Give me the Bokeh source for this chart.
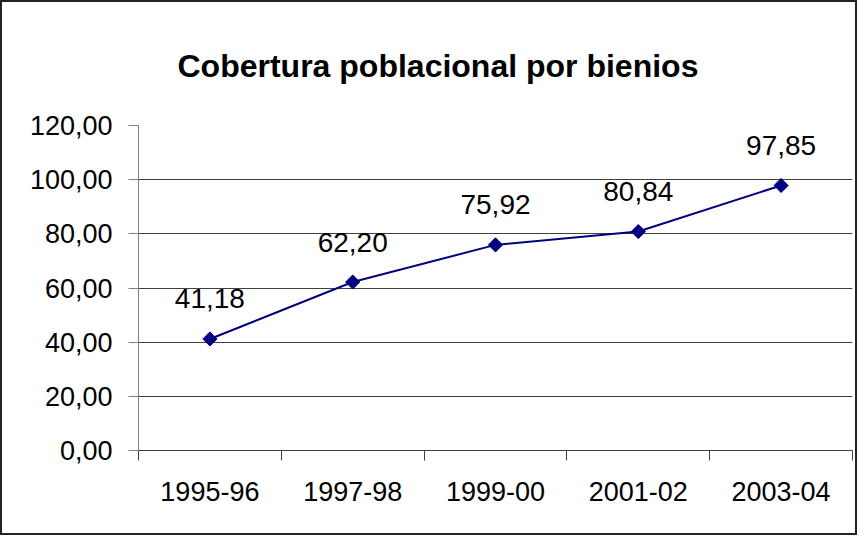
import numpy as np
from bokeh.plotting import figure
from bokeh.models import (Range1d, FixedTicker, ColumnDataSource, LabelSet, Title)
from bokeh.core.properties import value
from bokeh.embed import file_html
from bokeh.resources import INLINE

categories = ["1995-96", "1997-98", "1999-00", "2001-02", "2003-04"]
values = [41.18, 62.20, 75.92, 80.84, 97.85]
value_labels = ["41,18", "62,20", "75,92", "80,84", "97,85"]
y_ticks = [0, 20, 40, 60, 80, 100, 120]
y_tick_labels = ["0,00", "20,00", "40,00", "60,00", "80,00", "100,00", "120,00"]
grid_ticks = [20, 40, 60, 80, 100]
title_text = "Cobertura poblacional por bienios"

FONT = "Liberation Sans"
n = len(categories)
centres = [i + 0.5 for i in range(n)]
edges = list(range(n + 1))

p = figure(x_range=Range1d(0, n), y_range=Range1d(0, 120),
           width=857, height=535,
           output_backend="svg", toolbar_location=None,
           min_border_left=136, min_border_right=7,
           min_border_top=123, min_border_bottom=87)
p.styles = {"border": "2px solid #222222"}
p.outline_line_color = None
p.background_fill_color = "white"
p.border_fill_color = "white"
p.xgrid.visible = False

title = Title(text=title_text, align="left", offset=39,
              text_font=FONT, text_font_size="32px", text_font_style="bold",
              text_color="black")
if "standoff" in Title.properties():
    title.standoff = 83
    p.title = title
else:
    p.title = title
    p.add_layout(Title(text=" ", text_font_size="74px"), "above")

# y axis
yax = p.yaxis[0]
yax.ticker = FixedTicker(ticks=y_ticks)
yax.major_label_overrides = {v: s for v, s in zip(y_ticks, y_tick_labels)}
yax.major_label_text_font = FONT
yax.major_label_text_font_size = "27px"
yax.major_label_text_color = "black"
yax.major_tick_in = 0
yax.major_tick_out = 10
yax.minor_tick_in = 0
yax.minor_tick_out = 0
yax.major_label_standoff = 16
yax.axis_line_color = "#808080"
yax.major_tick_line_color = "#808080"

p.ygrid.ticker = FixedTicker(ticks=grid_ticks)
p.ygrid.grid_line_color = "#404040"
p.ygrid.grid_line_width = 1

# x axis: ticks between categories, labels at centres
xax = p.xaxis[0]
xax.ticker = FixedTicker(ticks=centres, minor_ticks=edges)
xax.major_label_overrides = {c: s for c, s in zip(centres, categories)}
xax.major_tick_in = 0
xax.major_tick_out = 0
xax.minor_tick_in = 0
xax.minor_tick_out = 10
xax.minor_tick_line_color = "#404040"
xax.axis_line_color = "#404040"
xax.major_label_text_font = FONT
xax.major_label_text_font_size = "27px"
xax.major_label_text_color = "black"
xax.major_label_standoff = 21

src = ColumnDataSource(data=dict(x=centres, cat=categories, val=values, lbl=value_labels))
p.line(x="x", y="val", source=src, line_color="#000080", line_width=2)
p.scatter(x="x", y="val", source=src, marker="square", angle=np.pi / 4,
          size=10, fill_color="#000080", line_color="#000080")

labels = LabelSet(x="x", y="val", text="lbl", source=src, y_offset=40,
                  text_align="center", text_baseline="middle",
                  text_font=value(FONT), text_font_size=value("28px"),
                  text_color="black")
p.add_layout(labels)

open("out.html", "w").write(file_html(p, INLINE))
